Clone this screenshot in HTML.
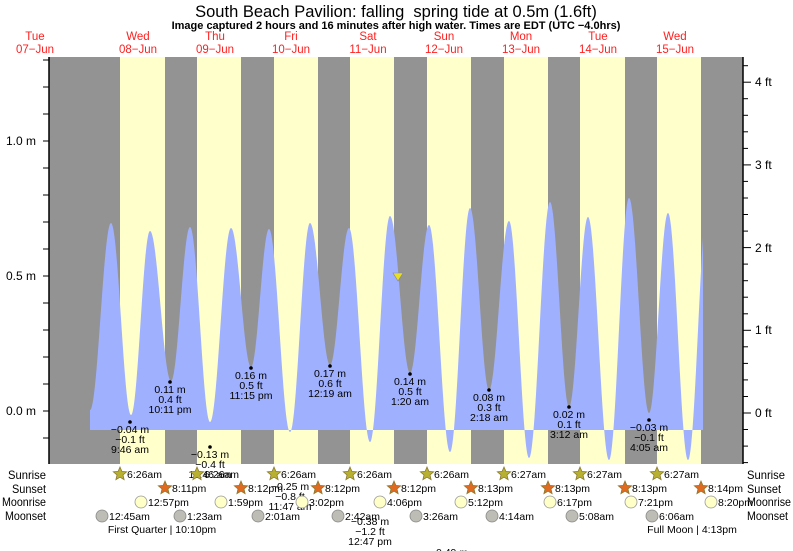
<!DOCTYPE html>
<html><head><meta charset="utf-8"><style>
html,body{margin:0;padding:0;background:#fff;}
svg{display:block;font-family:"Liberation Sans",sans-serif;}
</style></head><body>
<svg id="s" width="793" height="551" viewBox="0 0 793 551" xmlns="http://www.w3.org/2000/svg">
<rect x="0" y="0" width="793" height="551" fill="#fff"/>
<text x="396" y="17" font-size="16.5" text-anchor="middle" fill="#000" xml:space="preserve">South Beach Pavilion: falling  spring tide at 0.5m (1.6ft)</text>
<text x="396" y="29" font-size="11" font-weight="bold" text-anchor="middle" fill="#000">Image captured 2 hours and 16 minutes after high water. Times are EDT (UTC −4.0hrs)</text>
<g font-size="11.5" fill="#ff2020" text-anchor="middle">
<text x="35" y="40">Tue</text><text x="35" y="53">07−Jun</text>
<text x="138" y="40">Wed</text><text x="138" y="53">08−Jun</text>
<text x="215" y="40">Thu</text><text x="215" y="53">09−Jun</text>
<text x="291" y="40">Fri</text><text x="291" y="53">10−Jun</text>
<text x="368" y="40">Sat</text><text x="368" y="53">11−Jun</text>
<text x="444" y="40">Sun</text><text x="444" y="53">12−Jun</text>
<text x="521" y="40">Mon</text><text x="521" y="53">13−Jun</text>
<text x="598" y="40">Tue</text><text x="598" y="53">14−Jun</text>
<text x="675" y="40">Wed</text><text x="675" y="53">15−Jun</text>
</g>
<rect x="49" y="57" width="694" height="407" fill="#939393"/>
<g fill="#ffffcc">
<rect x="120" y="57" width="45" height="407"/><rect x="197" y="57" width="44" height="407"/>
<rect x="274" y="57" width="44" height="407"/><rect x="350" y="57" width="44" height="407"/>
<rect x="427" y="57" width="44" height="407"/><rect x="504" y="57" width="44" height="407"/>
<rect x="580" y="57" width="45" height="407"/><rect x="657" y="57" width="44" height="407"/>
</g>
<path id="tide" fill="#9fb0ff" d=""/>
<polygon points="393,273 403,273 398,281" fill="#e8e020" stroke="#888" stroke-width="0.6"/>
<line x1="49" y1="57" x2="49" y2="464" stroke="#000" stroke-width="1.5"/>
<line x1="743" y1="57" x2="743" y2="464" stroke="#000" stroke-width="1.5"/>
<g id="ticks" stroke="#000" stroke-width="1"></g>
<g font-size="12" fill="#000">
<text x="36" y="145" text-anchor="end">1.0 m</text>
<text x="36" y="280" text-anchor="end">0.5 m</text>
<text x="36" y="415" text-anchor="end">0.0 m</text>
<text x="755" y="86">4 ft</text><text x="755" y="169">3 ft</text>
<text x="755" y="252">2 ft</text><text x="755" y="334">1 ft</text><text x="755" y="417">0 ft</text>
</g>
<g id="lows" font-size="10.5" fill="#000" text-anchor="middle"></g>
<g id="rows" font-size="10.5" fill="#000"></g>
<g font-size="12" fill="#000">
<text x="8" y="479" textLength="38" lengthAdjust="spacingAndGlyphs">Sunrise</text>
<text x="12" y="493" textLength="34" lengthAdjust="spacingAndGlyphs">Sunset</text>
<text x="2" y="506" textLength="44" lengthAdjust="spacingAndGlyphs">Moonrise</text>
<text x="5" y="520" textLength="41" lengthAdjust="spacingAndGlyphs">Moonset</text>
<text x="747" y="479" textLength="38" lengthAdjust="spacingAndGlyphs">Sunrise</text>
<text x="747" y="493" textLength="34" lengthAdjust="spacingAndGlyphs">Sunset</text>
<text x="747" y="506" textLength="44" lengthAdjust="spacingAndGlyphs">Moonrise</text>
<text x="747" y="520" textLength="41" lengthAdjust="spacingAndGlyphs">Moonset</text>
</g>
<g font-size="10.5" fill="#000" text-anchor="middle">
<text x="162" y="533">First Quarter | 10:10pm</text>
<text x="692" y="533">Full Moon | 4:13pm</text>
</g>
</svg>
<script>
(function(){
var NS="http://www.w3.org/2000/svg";
var ex=[[90,410],[111,223],[131,415],[150,231],[171,381],[190,227],[210,422],[231,228],[251,367],[269,229],[290,432],[310,223],[330,365],[349,228],[370,442],[390,216],[410,373],[429,225],[450,452],[470,208],[489,390],[509,221],[529,458],[550,202],[569,407],[588,217],[609,460],[629,198],[649,413],[668,213],[688,460],[708,200]];
var base=430,d="M90,"+base+" L90,410";
for(var i=0;i<ex.length-1;i++){var a=ex[i],b=ex[i+1];
 for(var x=a[0]+0.5;x<=b[0];x+=0.5){if(x>703)break;var t=(x-a[0])/(b[0]-a[0]);var y=a[1]+(b[1]-a[1])*(1-Math.cos(Math.PI*t))/2;d+=" L"+x.toFixed(1)+","+y.toFixed(1);}}
d+=" L703,257 L703,"+base+" Z";
document.getElementById("tide").setAttribute("d",d);
function el(p,n,at,txt){var e=document.createElementNS(NS,n);for(var k in at)e.setAttribute(k,at[k]);if(txt)e.textContent=txt;p.appendChild(e);return e;}
var tk=document.getElementById("ticks");
for(var y=60;y<=464;y+=27){el(tk,"line",{x1:43,y1:y,x2:49,y2:y});}
for(var v=-0.6;v<=4.3;v+=0.2){var yy=413-v*82.7;if(yy<57||yy>464)continue;var maj=Math.abs(v-Math.round(v))<0.01;el(tk,"line",{x1:743,y1:yy.toFixed(1),x2:maj?751:748,y2:yy.toFixed(1)});}
var lw=document.getElementById("lows");
var L=[[130,422,"−0.04 m","−0.1 ft","9:46 am"],[170,382,"0.11 m","0.4 ft","10:11 pm"],[210,447,"−0.13 m","−0.4 ft","11:46 am"],[251,368,"0.16 m","0.5 ft","11:15 pm"],[330,366,"0.17 m","0.6 ft","12:19 am"],[410,374,"0.14 m","0.5 ft","1:20 am"],[489,390,"0.08 m","0.3 ft","2:18 am"],[569,407,"0.02 m","0.1 ft","3:12 am"],[649,420,"−0.03 m","−0.1 ft","4:05 am"]];
L.forEach(function(o){el(lw,"circle",{cx:o[0],cy:o[1],r:1.8,fill:"#000"});el(lw,"text",{x:o[0],y:o[1]+11},o[2]);el(lw,"text",{x:o[0],y:o[1]+21},o[3]);el(lw,"text",{x:o[0],y:o[1]+31},o[4]);});
[[290,490,"−0.25 m","−0.8 ft","11:47 am"],[370,525,"−0.38 m","−1.2 ft","12:47 pm"]].forEach(function(o){el(lw,"text",{x:o[0],y:o[1]},o[2]);el(lw,"text",{x:o[0],y:o[1]+10},o[3]);el(lw,"text",{x:o[0],y:o[1]+20},o[4]);});
el(lw,"text",{x:452,y:556},"0.49 m");
var rw=document.getElementById("rows");
function star(cx,cy,fill){var p="";for(var k=0;k<10;k++){var r=k%2?3.2:7;var a=-Math.PI/2+k*Math.PI/5;p+=(cx+r*Math.cos(a)).toFixed(1)+","+(cy+r*Math.sin(a)).toFixed(1)+" ";}el(rw,"polygon",{points:p,fill:fill,stroke:"#8a7a30","stroke-width":0.8});}
var sr=[120,197,274,350,427,504,580,657],srt=["6:26am","6:26am","6:26am","6:26am","6:26am","6:27am","6:27am","6:27am"];
sr.forEach(function(x,i){star(x,474,"#b8b030");el(rw,"text",{x:x+7,y:478},srt[i]);});
var ss=[165,241,318,394,471,548,625,701],sst=["8:11pm","8:12pm","8:12pm","8:12pm","8:13pm","8:13pm","8:13pm","8:14pm"];
ss.forEach(function(x,i){star(x,488,"#e06a20");el(rw,"text",{x:x+7,y:492},sst[i]);});
var mr=[141,221,302,380,461,550,631,711],mrt=["12:57pm","1:59pm","3:02pm","4:06pm","5:12pm","6:17pm","7:21pm","8:20pm"];
mr.forEach(function(x,i){el(rw,"circle",{cx:x,cy:502,r:6,fill:"#ffffc8",stroke:"#999","stroke-width":0.8});el(rw,"text",{x:x+7,y:506},mrt[i]);});
var ms=[102,180,258,338,416,492,572,652],mst=["12:45am","1:23am","2:01am","2:42am","3:26am","4:14am","5:08am","6:06am"];
ms.forEach(function(x,i){el(rw,"circle",{cx:x,cy:516,r:6,fill:"#bdbdb5",stroke:"#888","stroke-width":0.8});el(rw,"text",{x:x+7,y:520},mst[i]);});
})();
</script>
</body></html>
